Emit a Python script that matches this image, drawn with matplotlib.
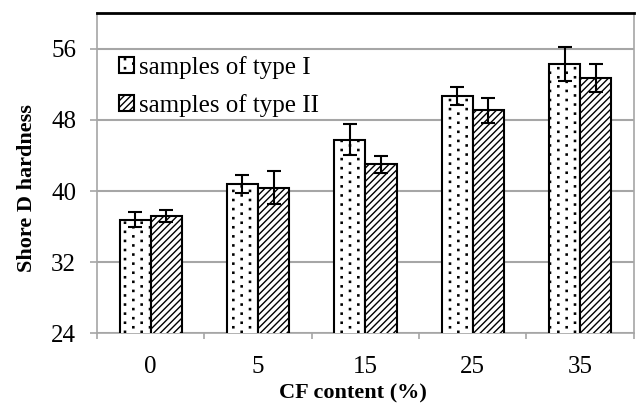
import matplotlib
matplotlib.use("Agg")
import matplotlib.pyplot as plt
import matplotlib.hatch as mhatch
from matplotlib.path import Path
import numpy as np

categories = ["0", "5", "15", "25", "35"]
type1 = [36.8, 40.8, 45.8, 50.7, 54.3]
type1_err = [0.8, 1.0, 1.7, 1.0, 1.9]
type2 = [37.2, 40.4, 43.0, 49.1, 52.7]
type2_err = [0.7, 1.9, 0.95, 1.4, 1.6]
series_labels = ["samples of type I", "samples of type II"]
yticks = [24, 32, 40, 48, 56]


# Sparse staggered dot hatch (Excel-like "dotted" pattern) used for '.'
class StaggerDots(mhatch.HatchPatternBase):
    def __init__(self, hatch, density):
        self.on = hatch.count('.') > 0
        self.ncol = 6
        self.nrow = 22
        h = 0.006
        self.shape_vertices = np.array([[-h, -h], [h, -h], [h, h], [-h, h], [-h, -h]])
        self.shape_codes = np.array([Path.MOVETO, Path.LINETO, Path.LINETO,
                                     Path.LINETO, Path.CLOSEPOLY], dtype=Path.code_type)
        centers = []
        for r in range(self.nrow + 1):
            y = r / self.nrow
            if r % 2 == 0:
                xs = np.linspace(0, 1, self.ncol + 1)
            else:
                xs = np.linspace(0.5 / self.ncol, 1 - 0.5 / self.ncol, self.ncol)
            for xx in xs:
                centers.append((xx, y))
        self.centers = np.array(centers)
        self.num_vertices = len(self.centers) * 5 if self.on else 0

    def set_vertices_and_codes(self, vertices, codes):
        vparts = [self.shape_vertices + c for c in self.centers]
        cparts = [self.shape_codes for _ in self.centers]
        np.concatenate(vparts, out=vertices)
        np.concatenate(cparts, out=codes)


mhatch._hatch_types = [StaggerDots if t is mhatch.SmallFilledCircles else t
                       for t in mhatch._hatch_types]

plt.rcParams['font.family'] = ['Liberation Serif', 'DejaVu Serif']
plt.rcParams['hatch.linewidth'] = 1.0

fig = plt.figure(figsize=(6.36, 4.04), dpi=100)
ax = fig.add_axes([0.1525, 0.175, 0.9965 - 0.1525, 0.967 - 0.175])

x = np.arange(len(categories))
w = 0.29
grid_c = "#a6a6a6"

ax.bar(x - w/2, type1, w, color="white", edgecolor="black", linewidth=1.5,
       hatch=".", label=series_labels[0], zorder=3)
ax.bar(x + w/2, type2, w, color="white", edgecolor="black", linewidth=1.5,
       hatch="/////", label=series_labels[1], zorder=3)
ax.errorbar(x - w/2, type1, yerr=type1_err, fmt="none", ecolor="black",
            elinewidth=1.5, capsize=5, capthick=1.5, zorder=4)
ax.errorbar(x + w/2, type2, yerr=type2_err, fmt="none", ecolor="black",
            elinewidth=1.5, capsize=5, capthick=1.5, zorder=4)

ax.set_xlim(-0.5, len(categories) - 0.5)
ax.set_ylim(24, 60)
ax.set_yticks(yticks)
ax.set_yticklabels([str(v) for v in yticks], fontsize=18)
ax.set_xticks(x)
ax.set_xticklabels(categories, fontsize=18)
ax.tick_params(axis="x", length=0, pad=16)
ax.set_xticks(np.arange(len(categories) + 1) - 0.5, minor=True)
ax.tick_params(axis="x", which="minor", length=4.5, color=grid_c, width=1.2)
ax.tick_params(axis="y", length=5, color=grid_c, width=1.2, pad=10)
ax.yaxis.grid(True, color=grid_c, linewidth=1.5, zorder=0)
ax.set_axisbelow(True)

for s in ["left", "bottom", "right"]:
    ax.spines[s].set_color(grid_c)
    ax.spines[s].set_linewidth(1.2)
ax.spines["top"].set_color("black")
ax.spines["top"].set_linewidth(2)

ax.set_ylabel("Shore D hardness", fontsize=16, fontweight="bold")
ax.yaxis.set_label_coords(-0.112, 0.454)
ax.set_xlabel("CF content (%)", fontsize=16, fontweight="bold")
ax.xaxis.set_label_coords(0.477, -0.157)

leg = ax.legend(loc="center left", bbox_to_anchor=(0.041, 0.772), fontsize=18,
                frameon=False, handlelength=0.6, handleheight=0.6,
                handletextpad=0.2, labelspacing=0.62, borderaxespad=0,
                borderpad=0)

fig.savefig("out.png", dpi=100)
